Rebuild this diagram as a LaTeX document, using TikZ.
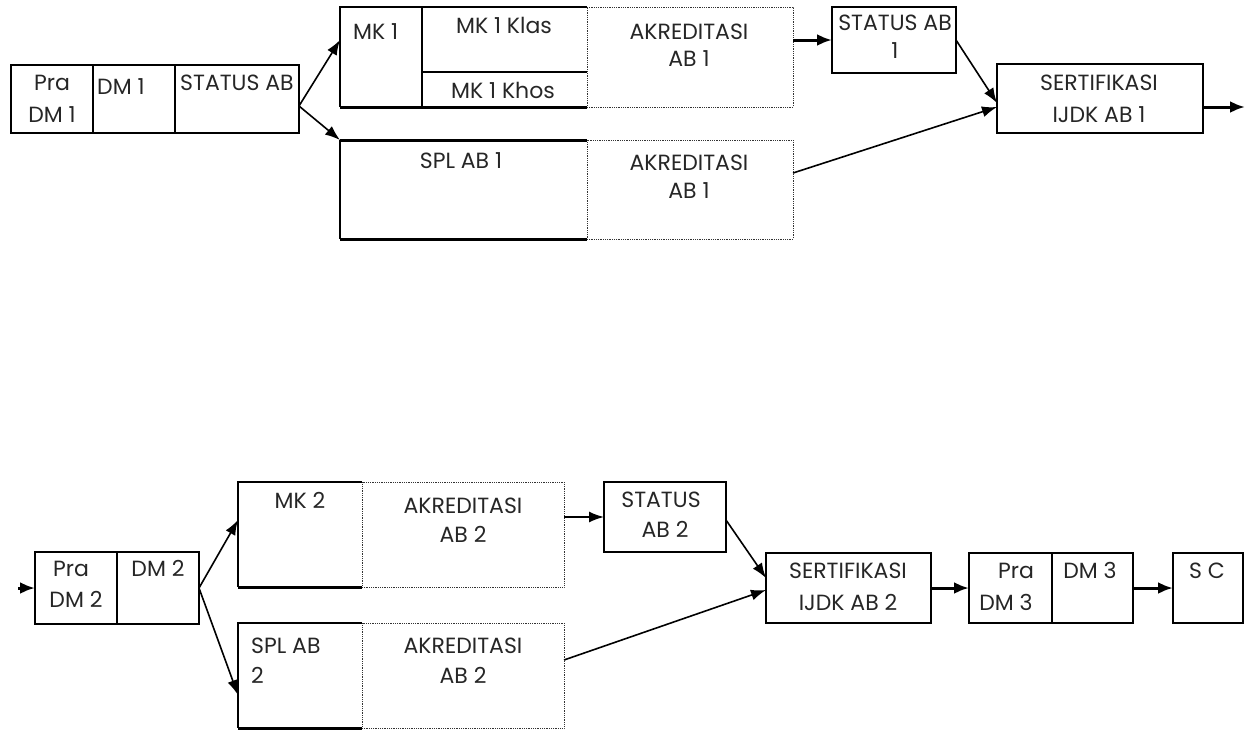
\documentclass[tikz,border=0pt]{standalone}
\usepackage{fontspec}
\setmainfont{Poppins}
\usetikzlibrary{arrows.meta,calc}
\begin{document}
\begin{tikzpicture}[x=1pt,y=-1pt,
  cell/.style={draw=black,line width=1.6pt,inner sep=0pt,outer sep=0pt,anchor=north west},
  open/.style={draw=none,inner sep=0pt,outer sep=0pt,anchor=north west},
  dotbox/.style={draw=black!80,line width=0.8pt,densely dotted,inner sep=0pt,outer sep=0pt,anchor=north west},
  txt/.style={inner sep=0pt,font=\fontsize{22}{22}\selectfont,text=black!85,anchor=base},
  txtl/.style={txt,anchor=base west},
  arr/.style={line width=1.6pt,-{Latex[length=15pt,width=11pt]}},
  tarr/.style={line width=3pt,-{Latex[length=15pt,width=12pt]}},
  edge/.style={line width=1.6pt},
  thickedge/.style={line width=3pt}]
\useasboundingbox (0,0) rectangle (1260,731);
% ---------- top row ----------
\node[cell,minimum width=82pt,minimum height=68pt] (pra1) at (11,65) {};
\node[cell,minimum width=82pt,minimum height=68pt] (dm1) at (93,65) {};
\node[cell,minimum width=124pt,minimum height=68pt] (st1) at (175,65) {};
\node[open,minimum width=82pt,minimum height=100pt] (mk1) at (340,7) {};
\node[open,minimum width=165pt,minimum height=65pt] (klas1) at (422,7) {};
\node[open,minimum width=165pt,minimum height=35pt] (khos1) at (422,72) {};
\node[dotbox,minimum width=206pt,minimum height=100pt] (akr1a) at (587,7) {};
\node[open,minimum width=247pt,minimum height=99pt] (spl1) at (340,140) {};
\node[dotbox,minimum width=206pt,minimum height=99pt] (akr1b) at (587,140) {};
\node[cell,minimum width=124pt,minimum height=66pt] (sab1) at (832,7) {};
\node[cell,minimum width=206pt,minimum height=69pt] (sert1) at (997,64) {};
\coordinate (out1) at (1245,107);
% edges of open boxes
\draw[edge] (klas1.north east) -- (mk1.north west) -- (mk1.south west);
\draw[edge] (mk1.north east) -- (mk1.south east);
\draw[edge] (klas1.south west) -- (klas1.south east);
\draw[thickedge] (mk1.south west) -- (khos1.south east);
\draw[thickedge] (spl1.north west) -- (spl1.north east);
\draw[edge] (spl1.north west) -- (spl1.south west);
\draw[thickedge] (spl1.south west) -- (spl1.south east);
% texts top
\node[txt] (t1) at (52,90) {Pra};
\node[txt] (t2) at (52,122) {DM 1};
\node[txtl] (t3) at (97,94) {DM 1};
\node[txtl] (t4) at (180,90) {STATUS AB};
\node[txtl] (t5) at (353,39) {MK 1};
\node[txt] (t6) at (504,33) {MK 1 Klas};
\node[txt] (t7) at (503,98) {MK 1 Khos};
\node[txt] (t8) at (689,39) {AKREDITASI};
\node[txt] (t9) at (689,66) {AB 1};
\node[txt] (t10) at (461,168) {SPL AB 1};
\node[txt] (t11) at (689,170) {AKREDITASI};
\node[txt] (t12) at (689,198) {AB 1};
\node[txt] (t13) at (895,30) {STATUS AB};
\node[txt] (t14) at (895,58) {1};
\node[txt] (t15) at (1099,90) {SERTIFIKASI};
\node[txt] (t16) at (1099,122) {IJDK AB 1};
% arrows top
\draw[arr] ([yshift=-7pt]st1.east) -- ([yshift=17pt]mk1.west);
\draw[arr] ([yshift=-7pt]st1.east) -- (spl1.north west);
\draw[tarr] (akr1a.east |- sab1.west) -- (sab1.west);
\draw[arr] (sab1.east) -- ([yshift=-4.5pt]sert1.west);
\draw[arr] ([yshift=16.5pt]akr1b.east) -- ([yshift=-8.5pt]sert1.west);
\draw[tarr] (sert1.east |- out1) -- (out1);
% ---------- bottom row ----------
\coordinate (in2) at (18,588);
\node[cell,minimum width=82pt,minimum height=72pt] (pra2) at (35,552) {};
\node[cell,minimum width=82pt,minimum height=72pt] (dm2) at (117,552) {};
\node[open,minimum width=124pt,minimum height=105pt] (mk2) at (238,482) {};
\node[dotbox,minimum width=202pt,minimum height=105pt] (akr2a) at (362,482) {};
\node[open,minimum width=124pt,minimum height=105pt] (spl2) at (238,623) {};
\node[dotbox,minimum width=202pt,minimum height=105pt] (akr2b) at (362,623) {};
\node[cell,minimum width=122pt,minimum height=70pt] (sab2) at (604,482) {};
\node[cell,minimum width=165pt,minimum height=70pt] (sert2) at (766,553) {};
\node[cell,minimum width=83pt,minimum height=70pt] (pra3) at (969,553) {};
\node[cell,minimum width=81pt,minimum height=70pt] (dm3) at (1052,553) {};
\node[cell,minimum width=70pt,minimum height=70pt] (sc) at (1173,553) {};
\draw[edge] (mk2.north east) -- (mk2.north west) -- (mk2.south west);
\draw[thickedge] (mk2.south west) -- (mk2.south east);
\draw[edge] (spl2.north east) -- (spl2.north west) -- (spl2.south west);
\draw[thickedge] (spl2.south west) -- (spl2.south east);
% texts bottom
\node[txt] (u1) at (71,576) {Pra};
\node[txt] (u2) at (76,607) {DM 2};
\node[txt] (u3) at (158,576) {DM 2};
\node[txt] (u4) at (300,508) {MK 2};
\node[txt] (u5) at (463,513) {AKREDITASI};
\node[txt] (u6) at (463,542) {AB 2};
\node[txtl] (u7) at (251,653) {SPL AB};
\node[txtl] (u8) at (251,683) {2};
\node[txt] (u9) at (463,653) {AKREDITASI};
\node[txt] (u10) at (463,683) {AB 2};
\node[txt] (u11) at (661,507) {STATUS};
\node[txt] (u12) at (665,537) {AB 2};
\node[txt] (u13) at (848,578) {SERTIFIKASI};
\node[txt] (u14) at (848,610) {IJDK AB 2};
\node[txt] (u15) at (1016,578) {Pra};
\node[txt] (u16) at (1006,610) {DM 3};
\node[txt] (u17) at (1090,578) {DM 3};
\node[txt] (u18) at (1207,578) {S C};
% arrows bottom
\draw[tarr] (in2) -- (pra2.west);
\draw[arr] (dm2.east) -- ([yshift=14.5pt]mk2.west);
\draw[arr] (dm2.east) -- ([yshift=-19.5pt]spl2.west);
\draw[arr] (akr2a.east |- sab2.west) -- (sab2.west);
\draw[arr] ([yshift=-3pt]sab2.east) -- ([yshift=10pt]sert2.west);
\draw[arr] ([yshift=15.5pt]akr2b.east) -- ([yshift=-2pt]sert2.west);
\draw[tarr] (sert2.east) -- (pra3.west);
\draw[tarr] (dm3.east) -- (sc.west);
\end{tikzpicture}
\end{document}
